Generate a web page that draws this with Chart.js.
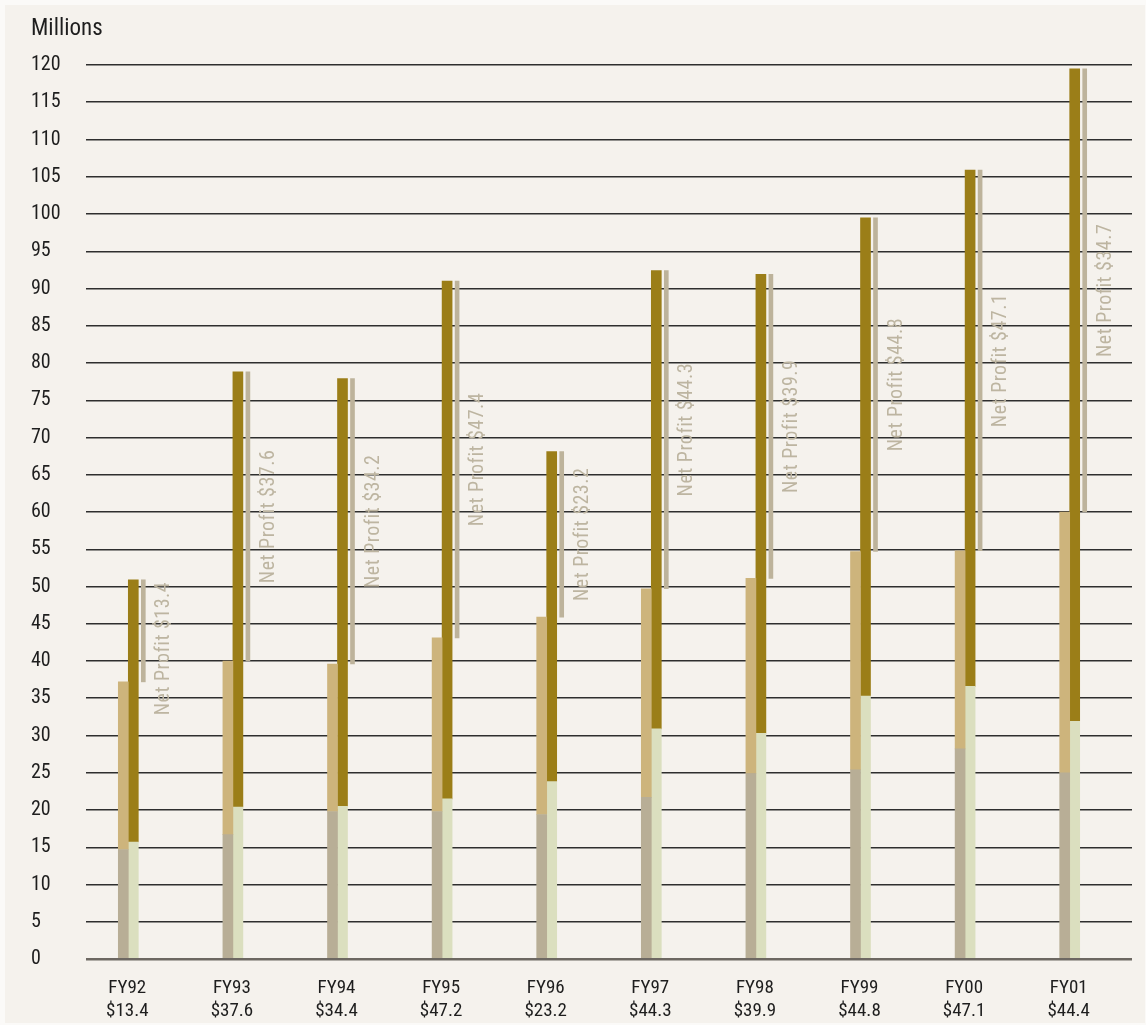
<!DOCTYPE html>
<html>
<head>
<meta charset="utf-8">
<script src="https://cdn.jsdelivr.net/npm/chart.js@4.4.1/dist/chart.umd.min.js"></script>
<style>
  body { margin: 0; background: #fbfaf8; }
  #wrap { position: absolute; left: 5px; top: 5px; width: 1140px; height: 1018px; background: #f5f2ed; }
</style>
</head>
<body>
<div id="wrap"><canvas id="chart" width="1140" height="1018"></canvas></div>
<script>
const years = ['FY92', 'FY93', 'FY94', 'FY95', 'FY96', 'FY97', 'FY98', 'FY99', 'FY00', 'FY01'];
const yearAmounts = ['$13.4', '$37.6', '$34.4', '$47.2', '$23.2', '$44.3', '$39.9', '$44.8', '$47.1', '$44.4'];
const netProfit = ['13.4', '37.6', '34.2', '47.4', '23.2', '44.3', '39.9', '44.8', '47.1', '34.7'];

// left column: grey base + tan top
const leftBase = [14.7, 16.7, 19.8, 19.8, 19.4, 21.7, 24.9, 25.4, 28.2, 25.0];
const leftTop = [22.5, 23.3, 19.8, 23.3, 26.5, 28.0, 26.2, 29.3, 26.6, 35.0];
// right column: pale green base + gold top
const rightBase = [15.7, 20.4, 20.5, 21.5, 23.8, 30.9, 30.3, 35.3, 36.6, 31.9];
const rightTop = [35.2, 58.4, 57.4, 69.5, 44.3, 61.5, 61.6, 64.2, 69.3, 87.6];

const yTicks = { min: 0, max: 120, step: 5 };

const FONT = "'Liberation Sans Narrow', 'Roboto Condensed', Roboto, sans-serif";

const leftTotal = leftBase.map((v, i) => v + leftTop[i]);
const rightTotal = rightBase.map((v, i) => v + rightTop[i]);
const profitBars = leftTotal.map((v, i) => [v, rightTotal[i]]);

// rotated "Net Profit" captions next to the thin bars
const profitLabels = {
  id: 'profitLabels',
  afterDatasetsDraw(chart) {
    const ctx = chart.ctx;
    const meta = chart.getDatasetMeta(4);
    ctx.save();
    ctx.font = '20px ' + FONT;
    ctx.letterSpacing = '0.5px';
    ctx.fillStyle = '#bdb5a1';
    meta.data.forEach((el, i) => {
      const text = 'Net Profit $' + netProfit[i];
      const w = ctx.measureText(text).width;
      const top = Math.min(el.y, el.base);
      const bottom = Math.max(el.y, el.base);
      const mid = (top + bottom) / 2;
      const ty = Math.max(mid - w / 2, top + 2);
      ctx.save();
      ctx.translate(el.x + 21, ty + w);
      ctx.rotate(-Math.PI / 2);
      ctx.textAlign = 'left';
      ctx.textBaseline = 'middle';
      ctx.fillText(text, 0, 0);
      ctx.restore();
    });
    ctx.restore();
  }
};

new Chart(document.getElementById('chart'), {
  type: 'bar',
  data: {
    labels: years.map((y, i) => [y, yearAmounts[i]]),
    datasets: [
      { data: leftBase, backgroundColor: '#b8ae96', stack: 'a', barThickness: 10 },
      { data: leftTop, backgroundColor: '#cdb47c', stack: 'a', barThickness: 10 },
      { data: rightBase, backgroundColor: '#dbdfbf', stack: 'b', barThickness: 10 },
      { data: rightTop, backgroundColor: '#9b7e18', stack: 'b', barThickness: 10 },
      { data: profitBars, backgroundColor: '#bdb39b', stack: 'c', barThickness: 10, maxBarThickness: 4 },
      { data: years.map(() => null), stack: 'd', barThickness: 10 }
    ]
  },
  options: {
    responsive: false,
    animation: false,
    layout: { padding: { left: 26, right: 13, top: 0, bottom: 0 } },
    plugins: {
      legend: { display: false },
      tooltip: { enabled: false },
      title: {
        display: true,
        text: 'Millions',
        align: 'start',
        color: '#1e1e1e',
        font: { family: FONT, size: 23, weight: 'normal', lineHeight: 1.2 },
        padding: { top: 10, bottom: 22.4 }
      }
    },
    scales: {
      x: {
        grid: { display: false },
        border: { display: false },
        ticks: {
          color: '#1e1e1e',
          font: { family: FONT, size: 19, lineHeight: 1.25 },
          padding: 9,
          labelOffset: -11,
          maxRotation: 0,
          autoSkip: false
        },
        afterFit: (s) => { s.height = 64; }
      },
      y: {
        stacked: true,
        min: yTicks.min,
        max: yTicks.max,
        border: { display: false },
        grid: {
          drawTicks: false,
          color: (c) => c.tick && c.tick.value === 0 ? '#6d6862' : '#2e2e2e',
          lineWidth: (c) => c.tick && c.tick.value === 0 ? 2.5 : 1.5
        },
        ticks: {
          stepSize: yTicks.step,
          crossAlign: 'far',
          color: '#1e1e1e',
          font: { family: FONT, size: 20 }
        },
        afterFit: (s) => { s.width = 55; }
      }
    }
  },
  plugins: [profitLabels]
});
</script>
</body>
</html>
